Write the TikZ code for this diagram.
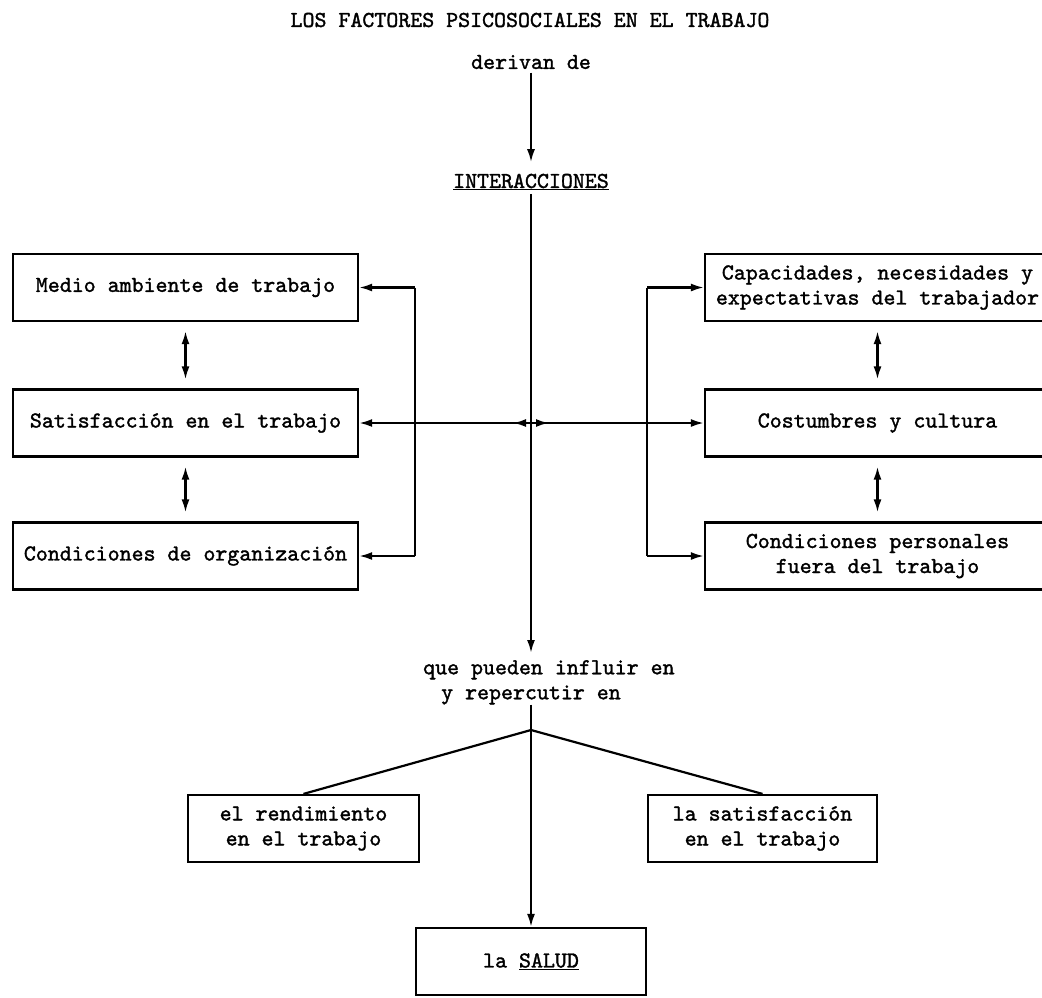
\documentclass[tikz,border=0pt]{standalone}
\usepackage{fontspec}
\newfontfamily\typewriter[FakeBold=1.5]{lmmono10-regular.otf}
\usetikzlibrary{arrows.meta, positioning}
\tikzstyle{box} = [draw, line width=2.2pt, minimum height=67pt, align=center]
\tikzstyle{link} = [line width=2.2pt]
\tikzstyle{arrow} = [line width=2.2pt, -{Latex[length=13pt,width=8pt]}]
\tikzstyle{both} = [line width=2.2pt, {Latex[length=13pt,width=8pt]}-{Latex[length=13pt,width=8pt]}, shorten <=9pt, shorten >=9pt]

\begin{document}
\begin{tikzpicture}[x=1pt, y=-1pt, font=\typewriter\fontsize{22.8}{25}\selectfont]
  \useasboundingbox (0,0) rectangle (1042,997);

  % Heading
  \node (title)   at (530,20)  {LOS FACTORES PSICOSOCIALES EN EL TRABAJO};
  \node (derivan) at (531,62)  {derivan de};
  \node (inter)   at (531,182) {\underline{INTERACCIONES}};
  \draw[arrow, shorten >=8pt] (derivan) -- (inter);

  % Left column
  \node[box, minimum width=345pt] (medio)   at (185.5,287.5) {Medio ambiente de trabajo};
  \node[box, minimum width=345pt] (satis)   at (185.5,423)   {Satisfacción en el trabajo};
  \node[box, minimum width=345pt] (condorg) at (185.5,556)   {Condiciones de organización};
  \draw[both] (medio) -- (satis);
  \draw[both] (satis) -- (condorg);

  % Right column
  \node[box, minimum width=345pt] (capac)    at (877.5,287.5) {Capacidades, necesidades y\\expectativas del trabajador};
  \node[box, minimum width=345pt] (cost)     at (877.5,423)   {Costumbres y cultura};
  \node[box, minimum width=345pt] (condpers) at (877.5,556)   {Condiciones personales\\fuera del trabajo};
  \draw[both] (capac) -- (cost);
  \draw[both] (cost) -- (condpers);

  % Brackets and crossing
  \coordinate (brL) at (415,0);
  \coordinate (brR) at (647,0);
  \coordinate (hub) at (inter |- satis);
  \coordinate (hubL) at ([xshift=-18pt]hub);
  \coordinate (hubR) at ([xshift=18pt]hub);
  \draw[link] (brL |- medio.east) -- (brL |- condorg.east);
  \draw[arrow] (brL |- medio.east) -- (medio.east);
  \draw[arrow] (brL |- condorg.east) -- (condorg.east);
  \draw[link] (brR |- capac.west) -- (brR |- condpers.west);
  \draw[arrow] (brR |- capac.west) -- (capac.west);
  \draw[arrow] (brR |- condpers.west) -- (condpers.west);
  \draw[arrow] (hub) -- (satis.east);
  \draw[arrow] (hub) -- (cost.west);
  \draw[arrow] (hub) -- (hubL);
  \draw[arrow] (hub) -- (hubR);

  % Consequences
  \node[anchor=north west, inner sep=0pt, align=left] (influ) at (423,660)
    {que pueden influir en\\\hspace*{18pt}y repercutir en};
  \draw[arrow, shorten >=7pt] (inter.south) -- (inter.south |- influ.north);
  \coordinate (apex) at (531,730);

  \node[box, minimum width=231pt] (rend)   at (303.5,828.5) {el rendimiento\\en el trabajo};
  \node[box, minimum width=229pt] (satisf) at (762.5,828.5) {la satisfacción\\en el trabajo};
  \node[box, minimum width=230pt] (salud)  at (531,961.5)   {la \underline{SALUD}};

  \draw[link] (influ.south -| apex) -- (apex);
  \draw[link] (apex) -- (rend.north);
  \draw[link] (apex) -- (satisf.north);
  \draw[arrow] (apex) -- (salud);
\end{tikzpicture}
\end{document}
